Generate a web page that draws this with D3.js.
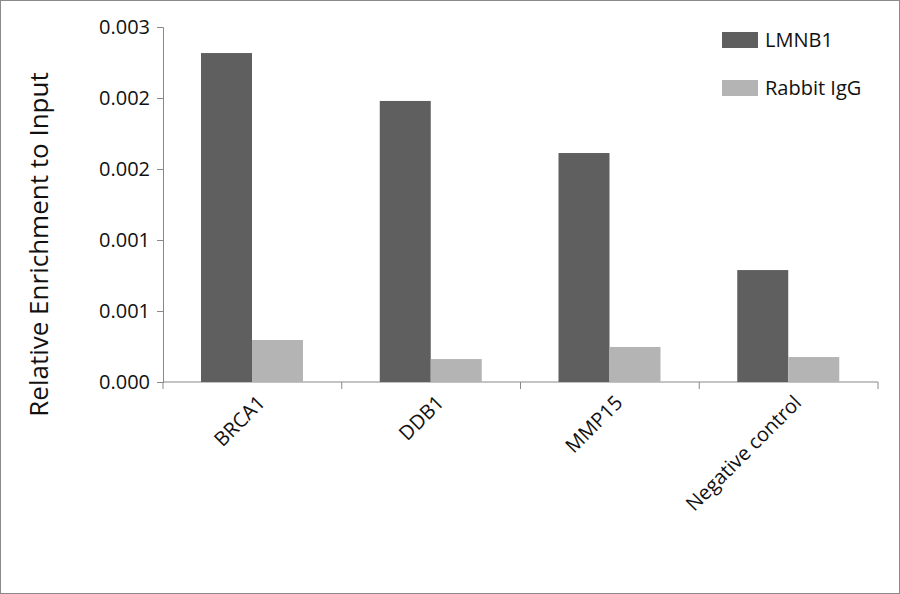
<!DOCTYPE html>
<html><head><meta charset="utf-8">
<script src="https://cdn.jsdelivr.net/npm/d3@7"></script>
<style>body{margin:0;background:#fff}</style>
</head><body><div id="chart"></div>
<script>
const categories = ["BRCA1", "DDB1", "MMP15", "Negative control"];
const seriesNames = ["LMNB1", "Rabbit IgG"];
const lmnb1 = [0.00278, 0.002375, 0.001935, 0.000946];
const igg = [0.000355, 0.000194, 0.000296, 0.000211];
const tickValues = [0, 0.0006, 0.0012, 0.0018, 0.0024, 0.003];
const tickLabels = ["0.000", "0.001", "0.001", "0.002", "0.002", "0.003"];
const colors = ["#5f5f5f", "#b4b4b4"];

const w = 900, h = 594;
const plotLeft = 163, plotRight = 878, plotTop = 27, plotBottom = 382;
const font = "'Open Sans', sans-serif";

const svg = d3.select("#chart").append("svg").attr("width", w).attr("height", h);
svg.append("rect").attr("x", 0.5).attr("y", 0.5).attr("width", w - 1).attr("height", h - 1)
  .attr("fill", "#fff").attr("stroke", "#8a8a8a");

const x = d3.scaleBand().domain(categories).range([plotLeft, plotRight]);
const y = d3.scaleLinear().domain([0, 0.003]).range([plotBottom, plotTop]);

const yAxis = svg.append("g").attr("transform", `translate(${plotLeft},0)`)
  .call(d3.axisLeft(y).tickValues(tickValues).tickFormat((d, i) => tickLabels[i]).tickSize(6));
yAxis.select(".domain").attr("stroke", "#888");
yAxis.selectAll(".tick line").attr("stroke", "#888");
yAxis.selectAll("text").attr("font-family", font).attr("font-size", 20).attr("fill", "#111").attr("dx", -4);

const xAxis = svg.append("g").attr("transform", `translate(0,${plotBottom})`);
xAxis.append("line").attr("x1", plotLeft).attr("x2", plotRight).attr("stroke", "#888");
xAxis.selectAll("line.t").data(categories.concat([null])).enter().append("line")
  .attr("x1", (d, i) => plotLeft + i * x.bandwidth()).attr("x2", (d, i) => plotLeft + i * x.bandwidth())
  .attr("y1", 0).attr("y2", 7).attr("stroke", "#888");
xAxis.selectAll("text").data(categories).enter().append("text")
  .attr("transform", d => `translate(${x(d) + x.bandwidth() / 2 + 14},${22}) rotate(-45)`)
  .attr("text-anchor", "end").attr("font-family", font).attr("font-size", 20).attr("fill", "#111")
  .text(d => d);

const bw = 51, off = 38;
const series = [lmnb1, igg];
series.forEach((vals, s) => {
  svg.selectAll(null).data(vals).enter().append("rect")
    .attr("x", (d, i) => x(categories[i]) + off + s * bw)
    .attr("y", d => y(d)).attr("width", bw).attr("height", d => plotBottom - y(d))
    .attr("fill", colors[s]);
});

svg.append("text").attr("transform", `translate(48,${(plotTop + plotBottom) / 2 + 40}) rotate(-90)`)
  .attr("text-anchor", "middle").attr("font-family", font).attr("font-size", 26).attr("fill", "#111")
  .text("Relative Enrichment to Input");

const lg = svg.selectAll("g.lg").data(seriesNames).enter().append("g")
  .attr("transform", (d, i) => `translate(722,${32 + i * 48})`);
lg.append("rect").attr("width", 36).attr("height", 16).attr("fill", (d, i) => colors[i]);
lg.append("text").attr("x", 43).attr("y", 15).attr("font-family", font).attr("font-size", 20)
  .attr("fill", "#111").text(d => d);
</script></body></html>
